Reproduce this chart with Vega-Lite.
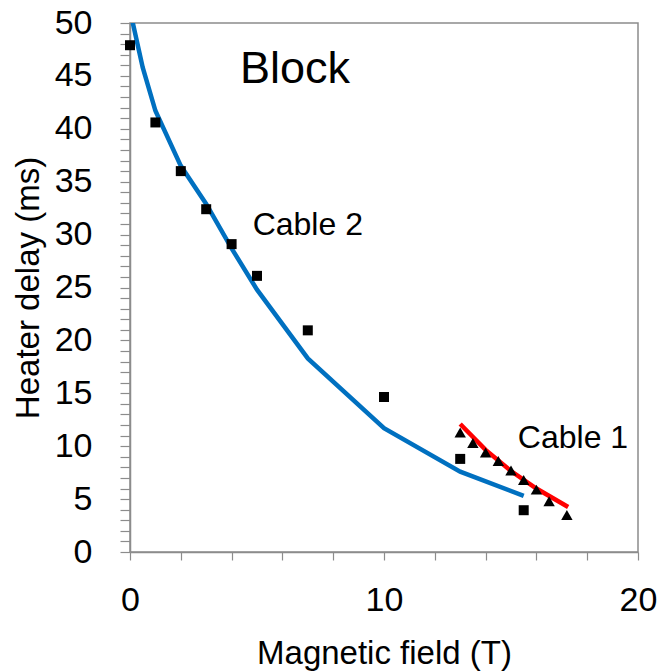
{
  "$schema": "https://vega.github.io/schema/vega-lite/v6.json",
  "width": 508,
  "height": 529,
  "autosize": {"type": "none"},
  "padding": {"left": 130, "top": 23, "right": 20, "bottom": 119},
  "background": "white",
  "config": {
    "view": {"stroke": "#8c8c8c", "strokeWidth": 1.5},
    "axis": {
      "grid": false,
      "domainColor": "#8c8c8c",
      "domainWidth": 1.5,
      "tickColor": "#8c8c8c",
      "tickWidth": 1.2,
      "labelColor": "black",
      "titleColor": "black",
      "titleFontWeight": "normal",
      "labelFont": "'Liberation Sans', Arial, sans-serif",
      "titleFont": "'Liberation Sans', Arial, sans-serif"
    }
  },
  "datasets": {
    "fit2": [
      {"x": 0, "y": 51.2}, {"x": 0.5, "y": 45.8}, {"x": 1, "y": 41.7}, {"x": 2, "y": 36.5},
      {"x": 3, "y": 32.9}, {"x": 4, "y": 28.7}, {"x": 5, "y": 24.8}, {"x": 7, "y": 18.3},
      {"x": 10, "y": 11.7}, {"x": 13, "y": 7.6}, {"x": 15.5, "y": 5.3}
    ],
    "fit1": [
      {"x": 13, "y": 12.1}, {"x": 14, "y": 9.65}, {"x": 15, "y": 7.65}, {"x": 16, "y": 6.0}, {"x": 17.25, "y": 4.25}
    ],
    "cable2": [
      {"x": 0, "y": 47.9}, {"x": 1, "y": 40.6}, {"x": 2, "y": 36.0}, {"x": 3, "y": 32.4},
      {"x": 4, "y": 29.1}, {"x": 5, "y": 26.1}, {"x": 7, "y": 20.95}, {"x": 10, "y": 14.65},
      {"x": 13, "y": 8.8}, {"x": 15.5, "y": 3.95}
    ],
    "cable1": [
      {"x": 13, "y": 11.3}, {"x": 13.5, "y": 10.3}, {"x": 14, "y": 9.4}, {"x": 14.5, "y": 8.6},
      {"x": 15, "y": 7.7}, {"x": 15.5, "y": 6.8}, {"x": 16, "y": 5.9}, {"x": 16.5, "y": 4.8},
      {"x": 17.2, "y": 3.5}
    ],
    "labels": [
      {"x": 6.5, "y": 44.3, "label": "Block", "size": 45},
      {"x": 7.0, "y": 30.0, "label": "Cable 2", "size": 32},
      {"x": 17.44, "y": 9.8, "label": "Cable 1", "size": 32}
    ]
  },
  "encoding": {
    "x": {
      "field": "x",
      "type": "quantitative",
      "scale": {"domain": [0, 20], "nice": false},
      "axis": {
        "title": "Magnetic field (T)",
        "titleFontSize": 33,
        "titlePadding": 20,
        "values": [0, 2, 4, 6, 8, 10, 12, 14, 16, 18, 20],
        "labelExpr": "datum.value % 10 === 0 ? datum.label : ''",
        "labelFontSize": 34,
        "tickSize": 8,
        "labelPadding": 23,
        "labelFlush": false,
        "labelOverlap": false
      }
    },
    "y": {
      "field": "y",
      "type": "quantitative",
      "scale": {"domain": [0, 50], "nice": false},
      "axis": {
        "title": "Heater delay (ms)",
        "titleFontSize": 33,
        "titlePadding": 9,
        "values": [0,1,2,3,4,5,6,7,8,9,10,11,12,13,14,15,16,17,18,19,20,21,22,23,24,25,26,27,28,29,30,31,32,33,34,35,36,37,38,39,40,41,42,43,44,45,46,47,48,49,50],
        "labelExpr": "datum.value % 5 === 0 ? datum.label : ''",
        "labelFontSize": 34,
        "tickSize": 10,
        "labelPadding": 28,
        "labelFlush": false,
        "labelOverlap": false
      }
    }
  },
  "layer": [
    {
      "data": {"name": "fit2"},
      "mark": {"type": "line", "color": "#0070C0", "strokeWidth": 4.5, "clip": true}
    },
    {
      "data": {"name": "fit1"},
      "mark": {"type": "line", "color": "#FF0000", "strokeWidth": 4.5, "clip": true}
    },
    {
      "data": {"name": "cable2"},
      "mark": {"type": "point", "shape": "square", "filled": true, "color": "black", "size": 100, "opacity": 1}
    },
    {
      "data": {"name": "cable1"},
      "mark": {"type": "point", "shape": "triangle-up", "filled": true, "color": "black", "size": 130, "opacity": 1}
    },
    {
      "data": {"name": "labels"},
      "mark": {"type": "text", "baseline": "alphabetic", "align": "center", "color": "black", "font": "'Liberation Sans', Arial, sans-serif"},
      "encoding": {
        "text": {"field": "label"},
        "size": {"field": "size", "type": "quantitative", "scale": null}
      }
    }
  ]
}
